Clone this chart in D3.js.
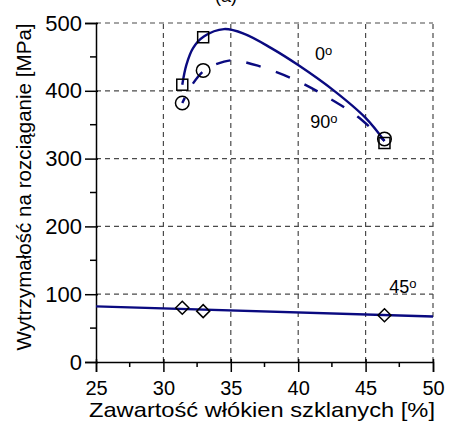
<!DOCTYPE html>
<html>
<head>
<meta charset="utf-8">
<script src="https://cdn.jsdelivr.net/npm/d3@7"></script>
<style>
  html, body { margin: 0; padding: 0; background: #fff; }
  svg { display: block; }
  text { font-family: "Liberation Sans", Arial, sans-serif; fill: #000; }
</style>
</head>
<body>
<script>
// Tensile strength vs glass-fibre content for three fibre orientations

// measured points
const fibreContent = [31.4, 32.95, 46.4];
const strength0 = [409, 479, 323];    // 0° (squares)
const strength90 = [382, 430, 329];   // 90° (circles)
const strength45 = [80, 75, 69];      // 45° (diamonds)

// fitted trend curves
const trend0x  = [31.4, 31.7, 32.2, 33.0, 34.5, 36.0, 38.0, 40.0, 42.6, 45.0, 46.4];
const trend0y  = [409, 438, 463, 480, 491, 484, 463, 438, 401, 360, 326];
const trend90x = [31.4, 32.2, 33.1, 34.5, 35.2, 37.0, 40.0, 42.3, 44.4, 46.4];
const trend90y = [382, 411, 431, 443, 445, 437, 414, 389, 362, 326];
const trend45x = [25, 50];
const trend45y = [82, 67];

// axes
const xTicks = [25, 30, 35, 40, 45, 50];
const xMinor = [27.5, 32.5, 37.5, 42.5, 47.5];
const yTicks = [0, 100, 200, 300, 400, 500];
const yMinor = [50, 150, 250, 350, 450];

const orientationLabels = [
  { text: "0", x: 41.25, y: 446 },
  { text: "90", x: 40.9, y: 345 },
  { text: "45", x: 46.75, y: 102 }
];

const W = 449, H = 432;
const svg = d3.select("body").append("svg").attr("width", W).attr("height", H);

const x = d3.scaleLinear().domain([25, 50]).range([96, 433]);
const y = d3.scaleLinear().domain([0, 500]).range([362, 23]);

const navy = "#0a0a80";

// panel caption (sits at the very top edge)
svg.append("text").attr("x", 226).attr("y", 2).attr("text-anchor", "middle")
  .attr("font-size", 18).text("(a)");

// dashed grid
const grid = svg.append("g").attr("stroke", "#4a4a4a").attr("stroke-width", 1.2)
  .attr("stroke-dasharray", "5,4").attr("fill", "none");
grid.selectAll("line.v").data(xTicks.slice(1)).join("line").attr("class", "v")
  .attr("x1", d => x(d)).attr("x2", d => x(d)).attr("y1", y(0)).attr("y2", y(500));
grid.selectAll("line.h").data(yTicks.slice(1)).join("line").attr("class", "h")
  .attr("x1", x(25)).attr("x2", x(50)).attr("y1", d => y(d)).attr("y2", d => y(d));

// axes
const xAxis = d3.axisBottom(x).tickValues(xTicks).tickSize(10).tickPadding(9);
const yAxis = d3.axisLeft(y).tickValues(yTicks).tickSize(11).tickPadding(3);

const gx = svg.append("g").attr("transform", `translate(0,${y(0)})`).call(xAxis);
const gy = svg.append("g").attr("transform", `translate(${x(25)},0)`).call(yAxis);
[gx, gy].forEach(g => {
  g.select(".domain").attr("stroke", "#000").attr("stroke-width", 1.5);
  g.selectAll(".tick line").attr("stroke", "#000").attr("stroke-width", 1.5);
  g.selectAll(".tick text")
    .attr("font-family", "'Liberation Sans', Arial, sans-serif").attr("fill", "#000");
});
gx.selectAll(".tick text").attr("font-size", 20);
gy.selectAll(".tick text").attr("font-size", 22);
// major ticks poke slightly inside the frame
gx.selectAll(".tick line").attr("y1", -3);
gy.selectAll(".tick line").attr("x1", 2);
// minor ticks
gx.selectAll("line.minor").data(xMinor).join("line").attr("class", "minor")
  .attr("x1", d => x(d)).attr("x2", d => x(d)).attr("y1", 0).attr("y2", 5)
  .attr("stroke", "#000").attr("stroke-width", 1.5);
gy.selectAll("line.minor").data(yMinor).join("line").attr("class", "minor")
  .attr("y1", d => y(d)).attr("y2", d => y(d)).attr("x1", 0).attr("x2", -6)
  .attr("stroke", "#000").attr("stroke-width", 1.5);

// axis titles
svg.append("text").attr("x", 262).attr("y", 417).attr("text-anchor", "middle")
  .attr("font-size", 21).attr("textLength", 346).attr("lengthAdjust", "spacingAndGlyphs")
  .text("Zawartość włókien szklanych [%]");
svg.append("text").attr("transform", "translate(31,187) rotate(-90)")
  .attr("text-anchor", "middle").attr("font-size", 20.6)
  .text("Wytrzymałość na rozciąganie [MPa]");

// trend curves
const line = d3.line().x(d => x(d[0])).y(d => y(d[1])).curve(d3.curveCatmullRom.alpha(0.5));
const zip = (a, b) => a.map((v, i) => [v, b[i]]);

svg.append("path").datum(zip(trend0x, trend0y)).attr("d", line)
  .attr("fill", "none").attr("stroke", navy).attr("stroke-width", 2.4);
svg.append("path").datum(zip(trend90x, trend90y)).attr("d", line)
  .attr("fill", "none").attr("stroke", navy).attr("stroke-width", 2.4)
  .attr("stroke-dasharray", "15,16").attr("stroke-dashoffset", 9);
svg.append("path").datum(zip(trend45x, trend45y)).attr("d", d3.line().x(d => x(d[0])).y(d => y(d[1])))
  .attr("fill", "none").attr("stroke", navy).attr("stroke-width", 2.4);

// markers
const mk = svg.append("g").attr("fill", "none").attr("stroke", "#000").attr("stroke-width", 1.5);
mk.selectAll("rect").data(zip(fibreContent, strength0)).join("rect")
  .attr("x", d => x(d[0]) - 5.5).attr("y", d => y(d[1]) - 5.5)
  .attr("width", 11).attr("height", 11);
mk.selectAll("circle").data(zip(fibreContent, strength90)).join("circle")
  .attr("cx", d => x(d[0])).attr("cy", d => y(d[1])).attr("r", 6.8);
mk.selectAll("path").data(zip(fibreContent, strength45)).join("path")
  .attr("d", d => {
    const cx = x(d[0]), cy = y(d[1]), r = 6.5;
    return `M${cx},${cy - r}L${cx + r},${cy}L${cx},${cy + r}L${cx - r},${cy}Z`;
  });

// orientation labels with a raised degree ring
const lab = svg.append("g");
orientationLabels.forEach(l => {
  const t = lab.append("text").attr("x", x(l.x)).attr("y", y(l.y)).attr("font-size", 18);
  t.append("tspan").text(l.text);
  t.append("tspan").attr("font-size", 13).attr("dy", -5).text("o");
});
</script>
</body>
</html>
